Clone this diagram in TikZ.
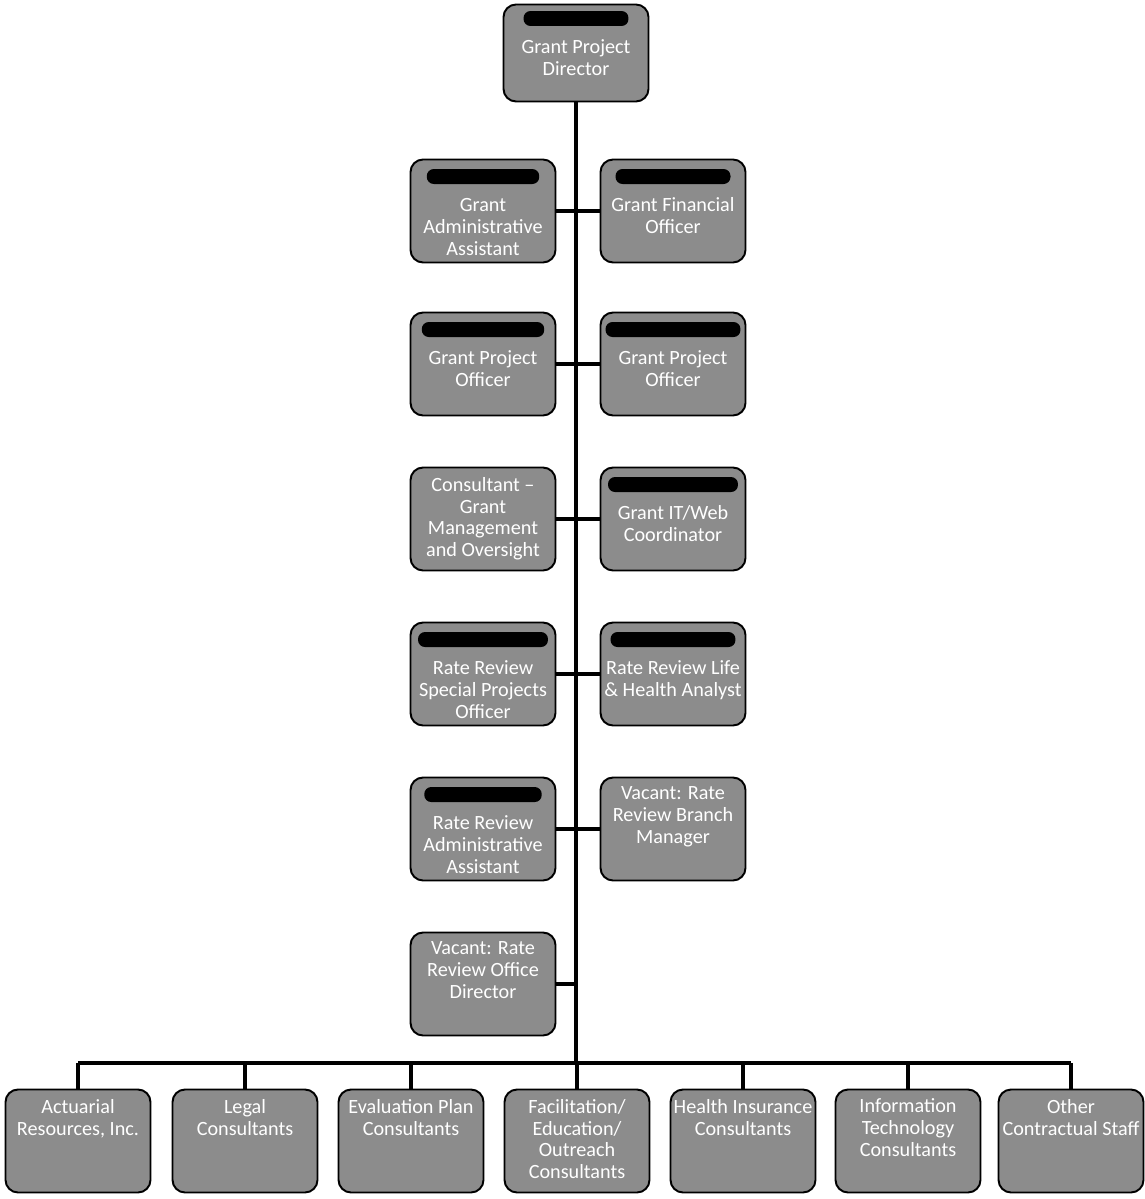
\documentclass[tikz,border=0pt]{standalone}
\usepackage{fontspec}
\setmainfont{Carlito}
\definecolor{boxgray}{HTML}{8C8C8C}
\newcommand\redbar[1]{\tikz[baseline=0pt]\fill[black,rounded corners=0.14cm] (0cm,0cm) rectangle (#1cm,0.3cm);}
\newcommand\bt[1]{\parbox[c][1.8cm][t]{2.9cm}{\vspace*{0.06cm}\centering #1}}
\tikzset{
  box/.style={draw=black, line width=1.1pt, rounded corners=0.25cm, fill=boxgray,
    text=white, minimum width=2.9cm, minimum height=2.06cm, inner sep=0pt,
    font=\fontsize{11.5}{12.5}\selectfont},
  conn/.style={line width=2.3pt, draw=black},
}
\begin{document}
\begin{tikzpicture}[x=0.02cm, y=-0.02cm]
\useasboundingbox (0,0) rectangle (1144,1199);
% top
\node[box, minimum height=1.94cm] (dir) at (576,53) {\bt{\redbar{2.1}\\[3pt]Grant Project\\Director}};
% row 1
\node[box] (gaa) at (483,211) {\bt{\redbar{2.25}\\[3pt]Grant\\Administrative\\Assistant}};
\node[box] (gfo) at (673,211) {\bt{\redbar{2.3}\\[3pt]Grant Financial\\Officer}};
% row 2
\node[box] (gpo1) at (483,364) {\bt{\redbar{2.45}\\[3pt]Grant Project\\Officer}};
\node[box] (gpo2) at (673,364) {\bt{\redbar{2.7}\\[3pt]Grant Project\\Officer}};
% row 3
\node[box] (cgm) at (483,519) {\bt{Consultant --\\Grant\\Management\\and Oversight}};
\node[box] (git) at (673,519) {\bt{\redbar{2.6}\\[3pt]Grant IT/Web\\Coordinator}};
% row 4
\node[box] (rsp) at (483,674) {\bt{\redbar{2.6}\\[3pt]Rate Review\\Special Projects\\Officer}};
\node[box] (rla) at (673,674) {\bt{\redbar{2.5}\\[3pt]Rate Review Life\\\& Health Analyst}};
% row 5
\node[box] (raa) at (483,829) {\bt{\redbar{2.35}\\[3pt]Rate Review\\Administrative\\Assistant}};
\node[box] (rbm) at (673,829) {\bt{Vacant: Rate\\Review Branch\\Manager}};
% row 6
\node[box] (rod) at (483,984) {\bt{Vacant: Rate\\Review Office\\Director}};
% bottom row
\node[box] (c1) at (78,1141) {\bt{Actuarial\\Resources, Inc.}};
\node[box] (c2) at (245,1141) {\bt{Legal\\Consultants}};
\node[box] (c3) at (411,1141) {\bt{Evaluation Plan\\Consultants}};
\node[box] (c4) at (577,1141) {\bt{Facilitation/\\Education/\\Outreach\\Consultants}};
\node[box] (c5) at (743,1141) {\bt{Health Insurance\\Consultants}};
\node[box] (c6) at (908,1141) {\bt{Information\\Technology\\Consultants}};
\node[box] (c7) at (1071,1141) {\bt{Other\\Contractual Staff}};
% connectors
\coordinate (bar) at (576,1063);
\draw[conn] (dir.south) -- (dir.south |- bar);
\draw[conn] (gaa.east) -- (gfo.west);
\draw[conn] (gpo1.east) -- (gpo2.west);
\draw[conn] (cgm.east) -- (git.west);
\draw[conn] (rsp.east) -- (rla.west);
\draw[conn] (raa.east) -- (rbm.west);
\draw[conn] (rod.east) -- (rod.east -| dir.south);
\draw[conn] (c1.north |- bar) -- (c7.north |- bar);
\foreach \n in {c1,c2,c3,c4,c5,c6,c7} {\draw[conn] (\n.north) -- (\n.north |- bar);}
\end{tikzpicture}
\end{document}
